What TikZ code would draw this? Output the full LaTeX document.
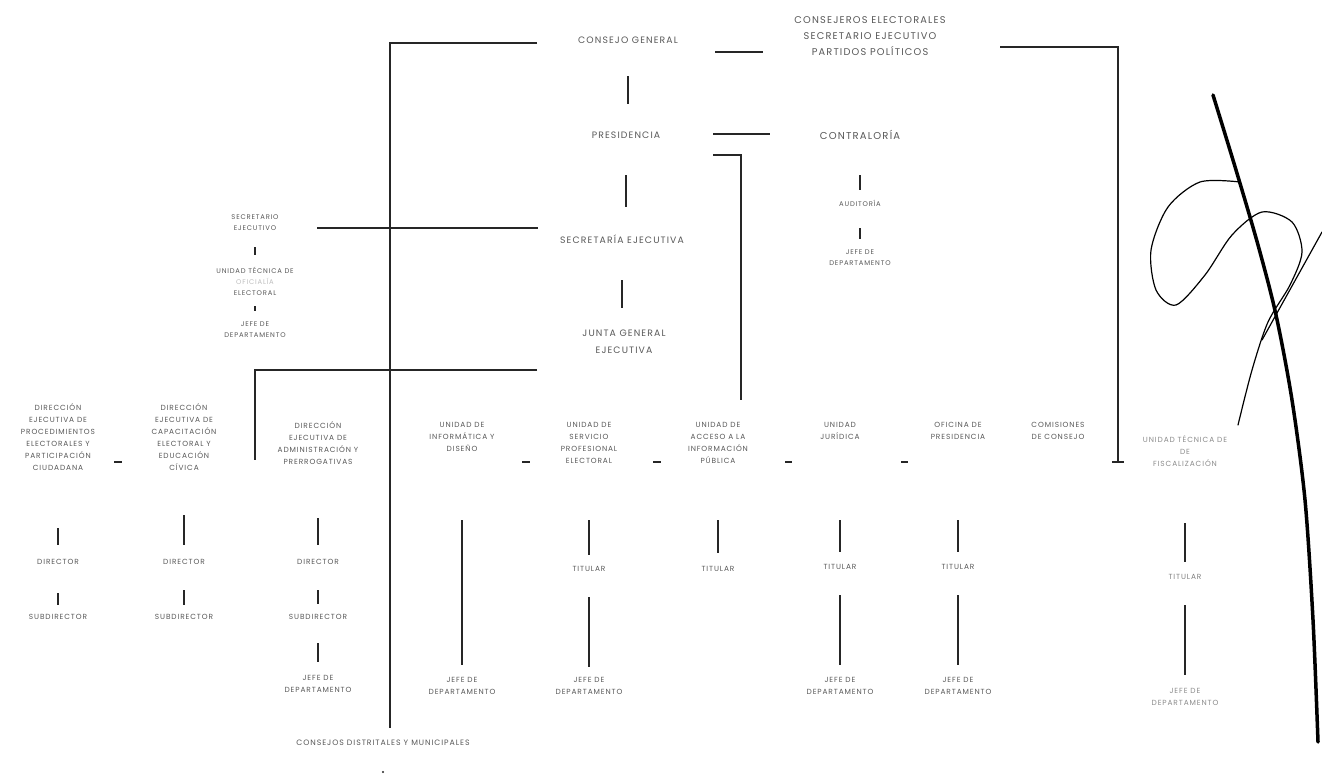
\documentclass[tikz,border=0pt]{standalone}
\usepackage{fontspec}
\setmainfont{Poppins}[LetterSpace=12]
\begin{document}
\begin{tikzpicture}[x=1pt,y=-1pt,
  link/.style={line width=1.5pt, black!85},
  dashmark/.style={line width=2.5pt, black!85},
  lbl/.style={align=center, inner sep=0pt, text=black!65, font=\fontsize{7.4}{12}\selectfont},
  big/.style={lbl, font=\fontsize{9.3}{17}\selectfont},
  sm/.style={lbl, font=\fontsize{6.8}{11}\selectfont},
  sig/.style={line width=3.5pt, black, line cap=round},
  sigthin/.style={line width=1.2pt, black, line cap=round}]
\useasboundingbox (0,0) rectangle (1322,774);
\fill[white] (0,0) rectangle (1322,774);

% top level
\node[big] (cg) at (628,40) {CONSEJO GENERAL};
\node[big, font=\fontsize{9.8}{16}\selectfont] (cons) at (870,36) {CONSEJEROS ELECTORALES\\SECRETARIO EJECUTIVO\\PARTIDOS POLÍTICOS};
\node[big] (pres) at (626,135) {PRESIDENCIA};
\node[big, font=\fontsize{10}{17}\selectfont] (contra) at (860,135) {CONTRALORÍA};
\node[sm] (aud) at (860,203) {AUDITORÍA};
\node[sm] (cjd) at (860,258) {JEFE DE\\DEPARTAMENTO};
\node[big] (sec) at (622,239) {SECRETARÍA EJECUTIVA};
\node[big] (junta) at (624,342) {JUNTA GENERAL\\EJECUTIVA};

% left column
\node[sm] (lse) at (255,223) {SECRETARIO\\EJECUTIVO};
\node[sm] (lut) at (255,281) {UNIDAD TÉCNICA DE\\\textcolor{black!25}{OFICIALÍA}\\ELECTORAL};
\node[sm] (ljd) at (255,330) {JEFE DE\\DEPARTAMENTO};

% bottom row
\node[lbl] (d1) at (58,437) {DIRECCIÓN\\EJECUTIVA DE\\PROCEDIMIENTOS\\ELECTORALES Y\\PARTICIPACIÓN\\CIUDADANA};
\node[lbl] (d2) at (184,437) {DIRECCIÓN\\EJECUTIVA DE\\CAPACITACIÓN\\ELECTORAL Y\\EDUCACIÓN\\CÍVICA};
\node[lbl] (d3) at (318,443) {DIRECCIÓN\\EJECUTIVA DE\\ADMINISTRACIÓN Y\\PRERROGATIVAS};
\node[lbl] (d4) at (462,437) {UNIDAD DE\\INFORMÁTICA Y\\DISEÑO};
\node[lbl] (d5) at (589,443) {UNIDAD DE\\SERVICIO\\PROFESIONAL\\ELECTORAL};
\node[lbl] (d6) at (718,443) {UNIDAD DE\\ACCESO A LA\\INFORMACIÓN\\PÚBLICA};
\node[lbl] (d7) at (840,431) {UNIDAD\\JURÍDICA};
\node[lbl] (d8) at (958,431) {OFICINA DE\\PRESIDENCIA};
\node[lbl] (d9) at (1058,431) {COMISIONES\\DE CONSEJO};
\node[lbl, text=black!45] (d10) at (1185,451) {UNIDAD TÉCNICA DE\\DE\\FISCALIZACIÓN};

% second row
\node[lbl] (r1) at (58,562) {DIRECTOR};
\node[lbl] (r2) at (184,562) {DIRECTOR};
\node[lbl] (r3) at (318,562) {DIRECTOR};
\node[lbl] (r5) at (589,569) {TITULAR};
\node[lbl] (r6) at (718,569) {TITULAR};
\node[lbl] (r7) at (840,567) {TITULAR};
\node[lbl] (r8) at (958,567) {TITULAR};
\node[lbl, text=black!50] (r10) at (1185,577) {TITULAR};

% third row
\node[lbl] (s1) at (58,617) {SUBDIRECTOR};
\node[lbl] (s2) at (184,617) {SUBDIRECTOR};
\node[lbl] (s3) at (318,617) {SUBDIRECTOR};

% department heads
\node[lbl] (j3) at (318,684) {JEFE DE\\DEPARTAMENTO};
\node[lbl] (j4) at (462,686) {JEFE DE\\DEPARTAMENTO};
\node[lbl] (j5) at (589,686) {JEFE DE\\DEPARTAMENTO};
\node[lbl] (j7) at (840,686) {JEFE DE\\DEPARTAMENTO};
\node[lbl] (j8) at (958,686) {JEFE DE\\DEPARTAMENTO};
\node[lbl, text=black!45] (j10) at (1185,697) {JEFE DE\\DEPARTAMENTO};

\node[lbl, font=\fontsize{7.8}{12}\selectfont] (cdm) at (383,743) {CONSEJOS DISTRITALES Y MUNICIPALES};
\coordinate (cdmtop) at (390,728);

% connectors top
\coordinate (cgL) at (537,43);
\draw[link] (cgL) -| (cdmtop);
\coordinate (cgR) at (715,52);
\coordinate (consL) at (763,52);
\draw[link] (cgR) -- (consL);
\coordinate (consR) at (1000,47);
\coordinate (d10in) at (1118,462);
\draw[link] (consR) -| (d10in);
\draw[link] ([xshift=-6pt]d10in) -- ([xshift=6pt]d10in);
\draw[link] (cg |- 0,76) -- (cg |- 0,104);
\draw[link, line width=2.2pt] (713,134) -- (770,134);
\coordinate (presR) at (713,155);
\coordinate (accTop) at (741,400);
\draw[link] (presR) -| (accTop);
\draw[link] (pres |- 0,175) -- (pres |- 0,207);
\draw[link] (sec |- 0,280) -- (sec |- 0,308);
\draw[link] (contra |- 0,175) -- (contra |- 0,190);
\draw[link] (aud |- 0,228) -- (aud |- 0,239);
\coordinate (lseR) at (317,228);
\coordinate (secL) at (538,228);
\draw[link] (lseR) -- (secL);
\draw[link] (lse |- 0,247) -- (lse |- 0,255);
\draw[link] (lut |- 0,306) -- (lut |- 0,311);
\coordinate (juntaL) at (537,370);
\coordinate (d2R) at (255,460);
\draw[link] (juntaL) -| (d2R);

% dashes between units
\draw[dashmark] (114,462) -- (122,462);
\draw[dashmark] (522,462) -- (530,462);
\draw[dashmark] (653,462) -- (661,462);
\draw[dashmark] (785,462) -- (792,462);
\draw[dashmark] (901,462) -- (908,462);

% column connectors
\draw[link] (d1 |- 0,528) -- (d1 |- 0,545);
\draw[link] (r1 |- 0,593) -- (r1 |- 0,605);
\draw[link] (d2 |- 0,515) -- (d2 |- 0,545);
\draw[link] (r2 |- 0,590) -- (r2 |- 0,605);
\draw[link] (d3 |- 0,518) -- (d3 |- 0,545);
\draw[link] (r3 |- 0,590) -- (r3 |- 0,604);
\draw[link] (s3 |- 0,643) -- (s3 |- 0,662);
\draw[link] (d4 |- 0,520) -- (d4 |- 0,665);
\draw[link] (d5 |- 0,520) -- (d5 |- 0,555);
\draw[link] (r5 |- 0,597) -- (r5 |- 0,667);
\draw[link] (d6 |- 0,520) -- (d6 |- 0,553);
\draw[link] (d7 |- 0,520) -- (d7 |- 0,552);
\draw[link] (r7 |- 0,595) -- (r7 |- 0,665);
\draw[link] (d8 |- 0,520) -- (d8 |- 0,552);
\draw[link] (r8 |- 0,595) -- (r8 |- 0,665);
\draw[link] (d10 |- 0,523) -- (d10 |- 0,562);
\draw[link] (r10 |- 0,605) -- (r10 |- 0,675);
\fill[black!85] (cdm |- 0,772) circle (1.2pt);

% signature
\draw[sig] plot[smooth] coordinates {(1213,95) (1236,170) (1258,245) (1276,315) (1292,400) (1305,500) (1313,620) (1318,742)};
\draw[sigthin] plot[smooth] coordinates {(1240,182) (1200,182) (1168,207) (1151,250) (1156,290) (1176,305) (1205,275) (1232,235) (1262,212) (1292,222) (1302,252) (1290,285) (1268,322) (1252,370) (1238,425)};
\draw[sigthin] (1322,232) -- (1262,340);
\end{tikzpicture}
\end{document}
